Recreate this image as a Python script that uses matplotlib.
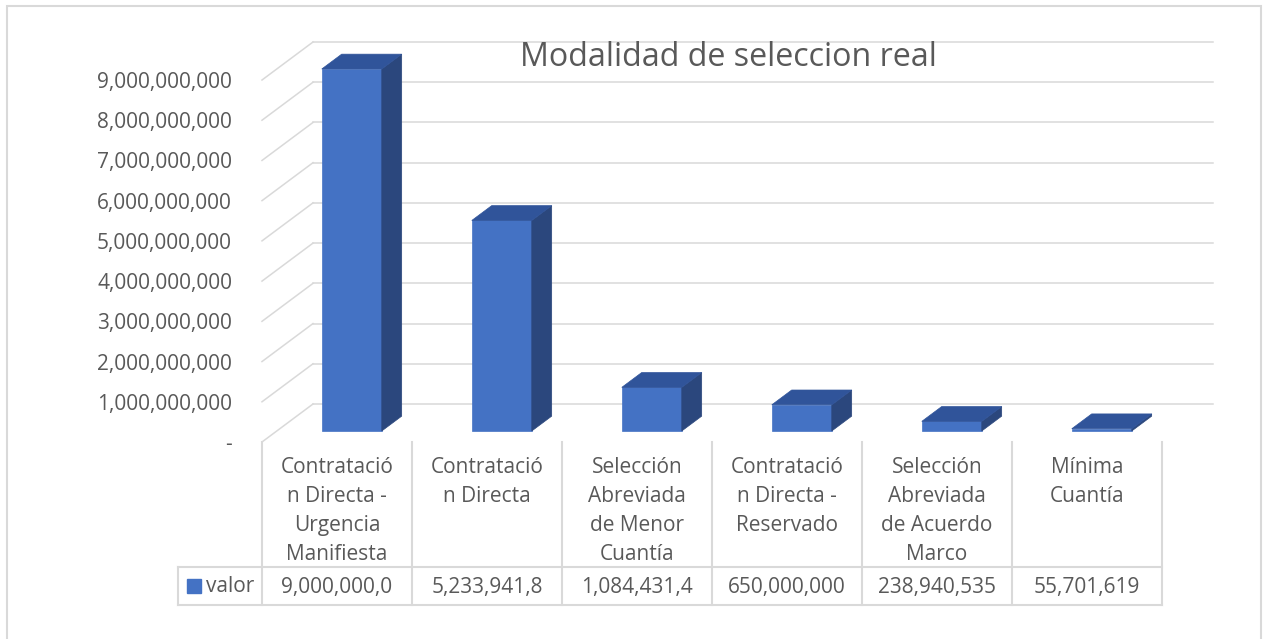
import numpy as np
import matplotlib
matplotlib.use("Agg")
import matplotlib.pyplot as plt
import matplotlib.transforms as mtransforms
from matplotlib.patches import Polygon, Rectangle

plt.rcParams['font.family'] = ['Open Sans', 'DejaVu Sans']

# data
categories = ["Contratació\nn Directa -\nUrgencia\nManifiesta",
              "Contratació\nn Directa",
              "Selección\nAbreviada\nde Menor\nCuantía",
              "Contratació\nn Directa -\nReservado",
              "Selección\nAbreviada\nde Acuerdo\nMarco",
              "Mínima\nCuantía"]
valor = [9000000000, 5233941800, 1084431400, 650000000, 238940535, 55701619]
valor_text = ["9,000,000,0", "5,233,941,8", "1,084,431,4",
              "650,000,000", "238,940,535", "55,701,619"]
yticks = [0, 1e9, 2e9, 3e9, 4e9, 5e9, 6e9, 7e9, 8e9, 9e9]
series_name = "valor"
title = "Modalidad de seleccion real"

# layout (pixels)
W, H = 1266, 639
AX_L, AX_R, AX_T, AX_B = 262, 1162, 80, 442
DEPTH_PX = (51, 38)
FRONT_F, BACK_F = 0.29, 0.68
HDR_BOT, ROW_BOT, LBL_L = 567, 605, 178

TXT = '#595959'
GRID = '#d9d9d9'
C_FRONT, C_SIDE, C_TOP = '#4472c4', '#2b477d', '#30549a'

fig = plt.figure(figsize=(W / 100, H / 100), dpi=100)
ax = fig.add_axes([AX_L / W, (H - AX_B) / H, (AX_R - AX_L) / W, (AX_B - AX_T) / H])
n = len(categories)
ax.set_xlim(0, n)
ax.set_ylim(0, yticks[-1])

px_x = (AX_R - AX_L) / n
px_y = (AX_B - AX_T) / yticks[-1]
DX = DEPTH_PX[0] / px_x
DY = DEPTH_PX[1] / px_y

def ya(py):
    return (AX_B - py) / (AX_B - AX_T)

def xa(px):
    return (px - AX_L) / (AX_R - AX_L)

blend = mtransforms.blended_transform_factory(ax.transData, ax.transAxes)

# walls
for t in yticks:
    ax.plot([DX, n + DX], [t + DY, t + DY], color=GRID, lw=1.1, zorder=1, clip_on=False)
    ax.plot([0, DX], [t, t + DY], color=GRID, lw=1.1, zorder=1, clip_on=False)

# 3d bars
bw = 0.4
x0 = np.arange(n) + 0.3 + FRONT_F * DX
y0 = FRONT_F * DY
dx = (BACK_F - FRONT_F) * DX
dy = (BACK_F - FRONT_F) * DY
ax.bar(x0, valor, width=bw, bottom=y0, align='edge', color=C_FRONT,
       edgecolor=C_FRONT, lw=0.5, zorder=3, clip_on=False)
for xl, v in zip(x0, valor):
    top = y0 + v
    side = [(xl + bw, y0), (xl + bw + dx, y0 + dy), (xl + bw + dx, top + dy), (xl + bw, top)]
    lid = [(xl, top), (xl + bw, top), (xl + bw + dx, top + dy), (xl + dx, top + dy)]
    ax.add_patch(Polygon(side, closed=True, fc=C_SIDE, ec=C_SIDE, lw=0.5, zorder=3, clip_on=False))
    ax.add_patch(Polygon(lid, closed=True, fc=C_TOP, ec=C_TOP, lw=0.5, zorder=3, clip_on=False))

# axis
ax.set_yticks(yticks)
ax.set_yticklabels(['-' if t == 0 else f"{t:,.0f}" for t in yticks])
ax.tick_params(axis='y', length=0, pad=21.6, labelsize=15, labelcolor=TXT)
ax.set_xticks([])
for s in ax.spines.values():
    s.set_visible(False)
ax.patch.set_visible(False)

# data table
for i in range(n + 1):
    ax.plot([i, i], [ya(AX_B), ya(ROW_BOT)], color=GRID, lw=1.5, transform=blend, clip_on=False)
for py in (HDR_BOT, ROW_BOT):
    ax.plot([xa(LBL_L), 1], [ya(py), ya(py)], color=GRID, lw=1.5,
            transform=ax.transAxes, clip_on=False)
ax.plot([xa(LBL_L)] * 2, [ya(HDR_BOT), ya(ROW_BOT)], color=GRID, lw=1.5,
        transform=ax.transAxes, clip_on=False)
for i, lab in enumerate(categories):
    ax.text(i + 0.5, ya(457), lab, transform=blend, ha='center', va='top',
            fontsize=15, color=TXT, linespacing=1.49)
    ax.text(i + 0.5, ya(587), valor_text[i], transform=blend, ha='center', va='center',
            fontsize=15, color=TXT)
ax.add_patch(Rectangle((xa(187), ya(593)), xa(201) - xa(187), ya(579) - ya(593),
                       transform=ax.transAxes, color=C_FRONT, clip_on=False))
ax.text(xa(206), ya(587), series_name, transform=ax.transAxes, ha='left', va='center',
        fontsize=15, color=TXT)

# title
ax.text(xa(728), ya(66), title, transform=ax.transAxes, ha='center', va='baseline',
        fontsize=23.2, color=TXT)

# chart frame
fig.add_artist(Rectangle((7 / W, -0.05), (1261 - 7) / W, 1.05 - 6 / H,
                         transform=fig.transFigure, fill=False, ec=GRID, lw=1.5))

fig.savefig("out.png", dpi=100)
